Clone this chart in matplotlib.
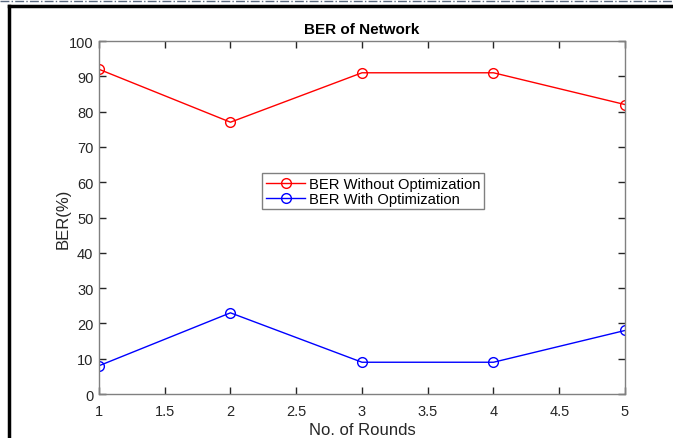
import matplotlib
matplotlib.use("Agg")
import matplotlib.pyplot as plt
from matplotlib.lines import Line2D

rounds = [1, 2, 3, 4, 5]
ber_without = [92, 77, 91, 91, 82]
ber_with = [8, 23, 9, 9, 18]
x_ticks = [1, 1.5, 2, 2.5, 3, 3.5, 4, 4.5, 5]
x_tick_labels = ["1", "1.5", "2", "2.5", "3", "3.5", "4", "4.5", "5"]
y_ticks = [0, 10, 20, 30, 40, 50, 60, 70, 80, 90, 100]

plt.rcParams["font.family"] = ["Liberation Sans", "DejaVu Sans"]

fig = plt.figure(figsize=(6.73, 4.39), dpi=100)
ax = fig.add_axes([0.147, 0.1002, 0.7817, 0.8041])

ax.plot(rounds, ber_without, color="red", linewidth=1, marker="o", markersize=7,
        markerfacecolor="none", markeredgewidth=1, label="BER Without Optimization")
ax.plot(rounds, ber_with, color="blue", linewidth=1, marker="o", markersize=7,
        markerfacecolor="none", markeredgewidth=1, label="BER With Optimization")

ax.set_xlim(1, 5)
ax.set_ylim(0, 100)
ax.set_xticks(x_ticks)
ax.set_xticklabels(x_tick_labels)
ax.set_yticks(y_ticks)
ax.tick_params(direction="in", top=True, right=True, length=5, width=1,
               labelsize=10.5, colors="#262626", pad=5)
ax.tick_params(axis="x", pad=7)
ax.tick_params(axis="y", pad=4)
for s in ax.spines.values():
    s.set_color("#808080")
    s.set_linewidth(1)

ax.set_title("BER of Network", fontsize=11, fontweight="bold", pad=6)
ax.set_xlabel("No. of Rounds", fontsize=12, labelpad=3, color="#262626")
ax.set_ylabel("BER(%)", fontsize=12, labelpad=-1, color="#262626")

leg = ax.legend(loc="upper left", bbox_to_anchor=(0.31, 0.625), fontsize=10.6,
                fancybox=False, framealpha=1, edgecolor="#808080",
                borderpad=0.25, labelspacing=0.05, handlelength=2.7, handletextpad=0.25,
                borderaxespad=0)
leg.get_frame().set_linewidth(1)

# page frame lines around the figure
fig.add_artist(Line2D([0, 1], [0.9954, 0.9954], color="#5a6a80", linewidth=1,
                      linestyle="-.", transform=fig.transFigure))
fig.add_artist(Line2D([0.0134, 1], [0.984, 0.984], color="black", linewidth=2.5,
                      transform=fig.transFigure))
fig.add_artist(Line2D([0.0134, 0.0134], [0, 0.984], color="black", linewidth=2.5,
                      transform=fig.transFigure))

fig.savefig("out.png", dpi=100)
